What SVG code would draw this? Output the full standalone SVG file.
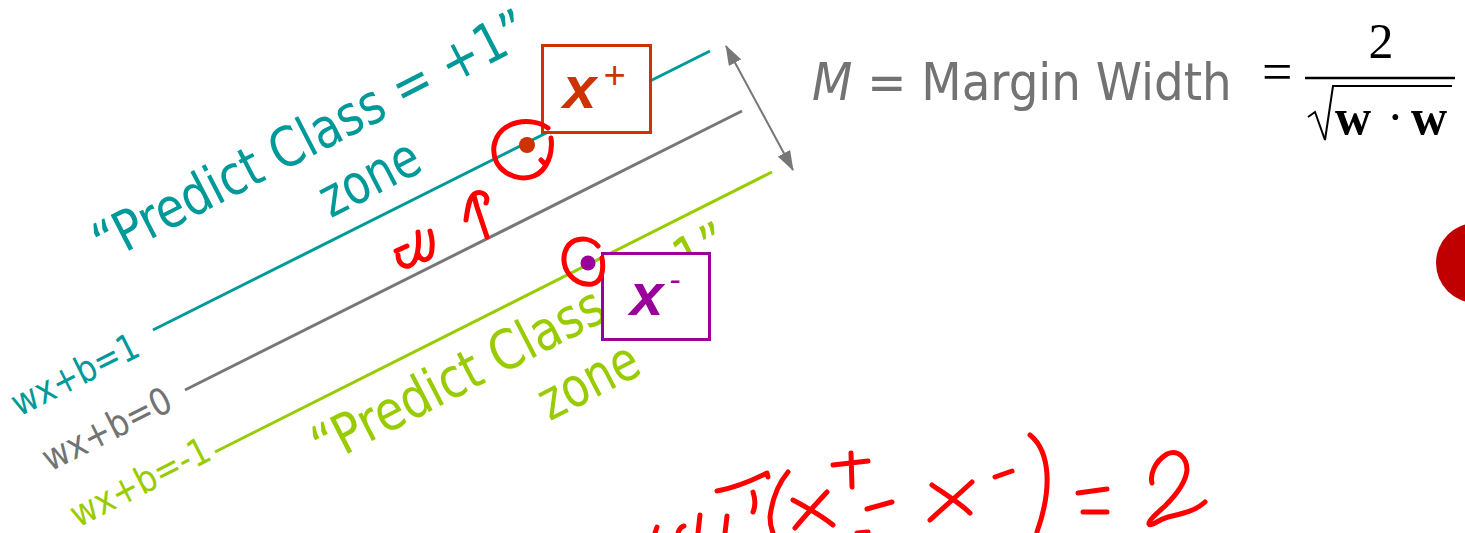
<svg xmlns="http://www.w3.org/2000/svg" width="1465" height="533" viewBox="0 0 1465 533">
<style>
.sans{font-family:"DejaVu Sans Condensed","DejaVu Sans",sans-serif;}
.teal{fill:#009999;}
.green{fill:#99cc00;}
.gray{fill:#737373;}
.hand{fill:none;stroke:#ff0000;stroke-width:5;stroke-linecap:round;stroke-linejoin:round;}
.ln{stroke-width:3;fill:none;}
.serif{font-family:"Liberation Serif","Times New Roman",serif;fill:#000;}
</style>
<defs>
<marker id="ah" viewBox="0 0 20 14" refX="19" refY="7" markerWidth="20" markerHeight="14" markerUnits="userSpaceOnUse" orient="auto-start-reverse">
<path d="M0,0 L20,7 L0,14 Z" fill="#777777"/>
</marker>
</defs>

<g id="zone-plus">
<text class="sans teal" font-size="55" transform="translate(105,263) rotate(-27.3)"><tspan x="0" y="0" textLength="482" lengthAdjust="spacingAndGlyphs">“Predict Class = +1”</tspan><tspan x="221" y="64" textLength="106" lengthAdjust="spacingAndGlyphs">zone</tspan></text>
</g>
<g id="zone-minus">
<text class="sans green" font-size="55" transform="translate(324,466) rotate(-27.3)"><tspan x="0" y="0" textLength="461" lengthAdjust="spacingAndGlyphs">“Predict Class = -1”</tspan><tspan x="221" y="64" textLength="106" lengthAdjust="spacingAndGlyphs">zone</tspan></text>
</g>

<g id="connectors">
<line class="ln" x1="153" y1="330" x2="710" y2="51" stroke="#009999"/>
<line class="ln" x1="185" y1="390" x2="742" y2="111" stroke="#777777"/>
<line class="ln" x1="215" y1="452" x2="772" y2="172" stroke="#99cc00"/>
<line x1="726" y1="46" x2="793" y2="170" stroke="#777777" stroke-width="2" marker-start="url(#ah)" marker-end="url(#ah)"/>
</g>

<g id="label-plus1">
<text class="sans teal" font-size="37" transform="translate(19,417) rotate(-26.7)" textLength="138" lengthAdjust="spacingAndGlyphs">wx+b=1</text>
</g>
<g id="label-zero">
<text class="sans gray" font-size="37" transform="translate(50,472) rotate(-26.7)" textLength="140" lengthAdjust="spacingAndGlyphs">wx+b=0</text>
</g>
<g id="label-minus1">
<text class="sans green" font-size="37" transform="translate(78,528) rotate(-27)" textLength="152" lengthAdjust="spacingAndGlyphs">wx+b=-1</text>
</g>

<g id="point-plus">
<circle cx="527" cy="145" r="8" fill="#cc3300"/>
</g>
<g id="point-minus">
<circle cx="588" cy="263" r="7.5" fill="#990099"/>
</g>

<g id="box-xplus">
<rect x="542.5" y="45.5" width="108" height="87" fill="#fff" stroke="#cc3300" stroke-width="3"/>
<text x="563" y="108" font-family="Liberation Sans, Arial, sans-serif" font-weight="bold" font-style="italic" font-size="60" fill="#cc3300">x</text>
<text x="603" y="88" font-family="Liberation Sans, Arial, sans-serif" font-style="italic" font-size="38" fill="#cc3300">+</text>
</g>
<g id="box-xminus">
<rect x="602.5" y="253.5" width="107" height="86" fill="#fff" stroke="#990099" stroke-width="3"/>
<text x="630" y="315" font-family="Liberation Sans, Arial, sans-serif" font-weight="bold" font-style="italic" font-size="60" fill="#990099">x</text>
<text x="669" y="291" font-family="Liberation Sans, Arial, sans-serif" font-style="italic" font-size="34" fill="#990099">-</text>
</g>

<g id="margin-formula">
<text class="sans gray" x="812" y="100" font-size="52"><tspan font-style="italic">M =</tspan> Margin Width</text>
<text class="serif" x="1262" y="90" font-size="54">=</text>
<text class="serif" x="1381" y="58" font-size="50" text-anchor="middle">2</text>
<line x1="1305" y1="78" x2="1455" y2="78" stroke="#000" stroke-width="2.5"/>
<path d="M1308,117 L1315,112 L1325,140 L1333,86 L1452,86" fill="none" stroke="#000" stroke-width="2"/>
<text class="serif" y="134" font-size="50" font-weight="bold"><tspan x="1335">w</tspan><tspan x="1387" font-weight="normal">·</tspan><tspan x="1411">w</tspan></text>
</g>

<g id="red-dot">
<circle cx="1476" cy="263" r="40" fill="#c00000"/>
</g>

<g id="handwriting">
<path class="hand" d="M548,128 C532,116 498,120 494,146 C491,170 516,183 534,176 C548,170 553,152 551,138 M541,160 L546,165 L550,156"/>
<path class="hand" d="M598,246 C590,236 570,236 565,252 C560,270 575,286 592,284 C602,282 604,270 602,258"/>
<path class="hand" d="M396,251 L407,246 M398,255 C398,266 409,270 414,262 C419,254 419,240 418,232 M418,254 C422,264 432,260 432,248 C433,240 431,234 430,231"/>
<path class="hand" d="M487,237 L477,207 L474,196 M466,220 C468,205 470,195 476,193 C483,191 489,196 486,203"/>
<path class="hand" d="M655,533 L657,527 M678,533 Q680,527 684,526 M700,515 L698,533 M727,516 L725,533"/>
<path class="hand" d="M717,491 C728,489 745,484 767,473 L768,477 M753,492 C755,498 756,505 753,512"/>
<path class="hand" d="M788,472 C778,484 772,500 770,517 C770,523 771,528 773,533"/>
<path class="hand" d="M793,500 C808,508 822,516 833,525 M827,492 C815,505 803,518 795,528"/>
<path class="hand" d="M833,465 L868,461 M851,453 L852,487"/>
<path class="hand" d="M867,509 L892,502 M857,533 L868,532"/>
<path class="hand" d="M932,485 C945,494 960,503 970,513 M972,482 C958,495 943,508 930,520"/>
<path class="hand" d="M995,477 L1012,471"/>
<path class="hand" d="M1030,435 C1040,443 1046,457 1047,475 C1048,495 1043,515 1037,532"/>
<path class="hand" d="M1078,493 L1107,489 M1083,512 L1107,512"/>
<path class="hand" d="M1152,483 C1150,475 1154,462 1167,454 C1178,449 1187,458 1187,470 C1186,482 1177,494 1165,506 C1156,514 1148,521 1149,524 C1151,527 1158,520 1168,517 C1180,514 1194,512 1205,502"/>
</g>
</svg>
